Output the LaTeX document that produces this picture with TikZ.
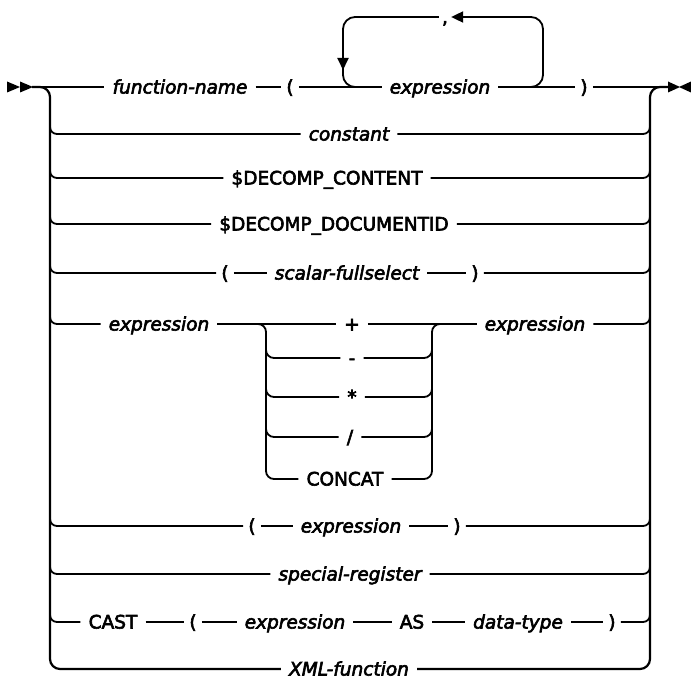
\documentclass[tikz,border=0pt]{standalone}
\usepackage{fontspec}
\setmainfont{DejaVu Sans}
\usetikzlibrary{arrows.meta}
\newcommand\heavyon{\special{pdf:literal direct 2 Tr 0.6 w}}
\newcommand\heavyoff{\special{pdf:literal direct 0 Tr}}
\begin{document}
\begin{tikzpicture}[x=1pt,y=-1pt,
  track/.style={line width=1.8pt},
  rail/.style={line width=2.2pt},
  rc/.style={rounded corners=7pt},
  tok/.style={inner xsep=8pt, inner ysep=0pt, text height=13pt, text depth=0pt,
              font=\fontsize{18.5}{22}\selectfont\heavyon,
              execute at end node={\heavyoff}},
  kw/.style={tok},
  var/.style={tok, font=\fontsize{18.5}{22}\selectfont\itshape\heavyon},
  par/.style={tok, inner xsep=5pt},
  tip/.style={-{Triangle[length=12pt,width=11pt]}}
  ]
\useasboundingbox (0,0) rectangle (691,677);

% rail junction coordinates
\foreach \n/\y in {2/134,3/178,4/224,5/273,6/324,7/526,8/574,9/622}{
  \coordinate (L\n) at (50,\y-12);
  \coordinate (R\n) at (650,\y-12);
}
\coordinate (s) at (32,87);
\coordinate (e) at (669,87);
\coordinate (LT) at (50,87);
\coordinate (LB) at (50,669);
\coordinate (RT) at (650,87);
\coordinate (RB) at (650,669);

% start / end markers
\fill (7,81.5) -- (20,87) -- (7,92.5) -- cycle;
\fill (20,81.5) -- (33,87) -- (20,92.5) -- cycle;
\fill (668,81.5) -- (680,87) -- (668,92.5) -- cycle;
\fill (691,81.5) -- (679,87) -- (691,92.5) -- cycle;

% row 1
\node[var] (fn) at (180,87) {function-name};
\node[par] (lp1) at (290,87) {(};
\node[var] (ex1) at (440,87) {expression};
\node[par] (rp1) at (584,87) {)};
\draw[track] (s) -- (fn) -- (lp1) -- (ex1) -- (rp1) -- (e);

% repeat loop
\node[tok, inner xsep=3pt] (comma) at (445,17) {,};
\coordinate (lpA) at (515,87);
\coordinate (lpB) at (543,87);
\coordinate (lpC) at (543,17);
\coordinate (lpD) at (343,17);
\coordinate (lpE) at (343,70);
\coordinate (lpF) at (343,58);
\coordinate (lpG) at (343,87);
\coordinate (lpH) at (372,87);
\draw[track, rounded corners=12pt, tip] (lpA) -- (lpB) -- (lpC) -- (comma);
\draw[track, rounded corners=12pt, tip] (comma) -- (lpD) -- (lpE);
\draw[track, rounded corners=12pt] (lpF) -- (lpG) -- (lpH);

% row 10 (bottom)
\node[var] (xml) at (349,669) {XML-function};

% main rails
\draw[rail, rounded corners=10pt] (s) -- (LT) -- (LB) -- (xml.west);
\draw[rail, rounded corners=10pt] (xml.east) -- (RB) -- (RT) -- (e);

% row 2
\node[var] (con) at (349,134) {constant};
\draw[track, rc] (L2) |- (con);
\draw[track, rc] (con) -| (R2);

% row 3
\node[kw] (dc) at (327,178) {\$DECOMP\_CONTENT};
\draw[track, rc] (L3) |- (dc);
\draw[track, rc] (dc) -| (R3);

% row 4
\node[kw] (dd) at (334,224) {\$DECOMP\_DOCUMENTID};
\draw[track, rc] (L4) |- (dd);
\draw[track, rc] (dd) -| (R4);

% row 5
\node[par] (lp5) at (225,273) {(};
\node[var] (sf) at (347,273) {scalar-fullselect};
\node[par] (rp5) at (475,273) {)};
\draw[track, rc] (L5) |- (lp5);
\draw[track] (lp5) -- (sf) -- (rp5);
\draw[track, rc] (rp5) -| (R5);

% row 6 with operators
\node[var] (exL) at (159,324) {expression};
\node[kw] (plus) at (352,324) {+};
\node[var] (exR) at (535,324) {expression};
\draw[track, rc] (L6) |- (exL);
\draw[track] (exL) -- (plus) -- (exR);
\draw[track, rc] (exR) -| (R6);

\node[kw] (minus) at (352,358) {-};
\node[kw] (star) at (352,397) {*};
\node[kw] (slash) at (350,437) {/};
\node[kw] (concat) at (345,479) {CONCAT};
\coordinate (oLT) at (256,324);
\coordinate (oL1) at (266,324);
\coordinate (oL2) at (266,479);
\coordinate (oR1) at (432,479);
\coordinate (oR2) at (432,324);
\coordinate (oRT) at (444,324);
\draw[track, rounded corners=8pt] (oLT) -- (oL1) -- (oL2) -- (concat);
\draw[track, rounded corners=8pt] (concat) -- (oR1) -- (oR2) -- (oRT);
\foreach \o/\y in {minus/358,star/397,slash/437}{
  \coordinate (oa\o) at (266,\y-14);
  \coordinate (ob\o) at (432,\y-14);
  \draw[track, rounded corners=8pt] (oa\o) |- (\o);
  \draw[track, rounded corners=8pt] (\o) -| (ob\o);
}

% row 7
\node[par] (lp7) at (252,526) {(};
\node[var] (ex7) at (351,526) {expression};
\node[par] (rp7) at (457,526) {)};
\draw[track, rc] (L7) |- (lp7);
\draw[track] (lp7) -- (ex7) -- (rp7);
\draw[track, rc] (rp7) -| (R7);

% row 8
\node[var] (sr) at (350,574) {special-register};
\draw[track, rc] (L8) |- (sr);
\draw[track, rc] (sr) -| (R8);

% row 9
\node[kw] (cast) at (113,622) {CAST};
\node[par] (lp9) at (193,622) {(};
\node[var] (ex9) at (295,622) {expression};
\node[kw] (as) at (412,622) {AS};
\node[var] (dt) at (518,622) {data-type};
\node[par] (rp9) at (612,622) {)};
\draw[track, rc] (L9) |- (cast);
\draw[track] (cast) -- (lp9) -- (ex9) -- (as) -- (dt) -- (rp9);
\draw[track, rc] (rp9) -| (R9);
\end{tikzpicture}
\end{document}
